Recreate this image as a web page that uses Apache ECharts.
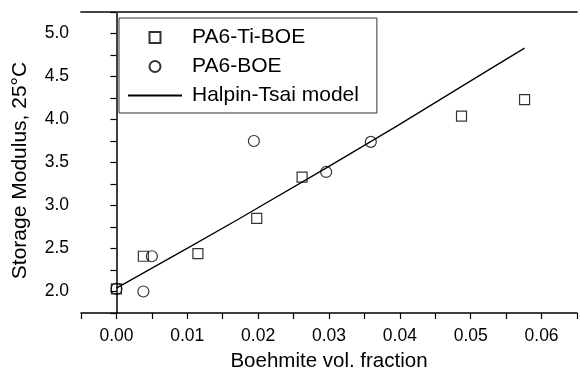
<!DOCTYPE html>
<html>
<head>
<meta charset="utf-8">
<title>Storage modulus vs boehmite fraction</title>
<script src="https://cdn.jsdelivr.net/npm/echarts@6/dist/echarts.min.js"></script>
<style>
  html, body { margin: 0; padding: 0; background: #fff; }
  #chart { width: 580px; height: 377px; }
</style>
</head>
<body>
<div id="chart"></div>
<script>
// Measured storage modulus (GPa) at 25 °C against boehmite volume fraction
const tiBoeFraction = [0.0, 0.0038, 0.0115, 0.0198, 0.0262, 0.0487, 0.0576];
const tiBoeModulus  = [2.03, 2.41, 2.44, 2.85, 3.33, 4.04, 4.23];

const boeFraction = [0.0, 0.0038, 0.0050, 0.0194, 0.0296, 0.0359];
const boeModulus  = [2.03, 2.00, 2.41, 3.75, 3.39, 3.74];

// Halpin-Tsai model prediction
const modelFraction = [0.0, 0.0106, 0.0172, 0.0297, 0.0395, 0.0530, 0.0576];
const modelModulus  = [2.04, 2.53, 2.84, 3.44, 3.92, 4.60, 4.83];

const seriesNames = ['PA6-Ti-BOE', 'PA6-BOE', 'Halpin-Tsai model'];
const xTitle = 'Boehmite vol. fraction';
const yTitle = 'Storage Modulus, 25°C';

const pairs = (xs, ys) => xs.map((x, i) => [x, ys[i]]);
const FONT = '"Liberation Sans", Arial, Helvetica, sans-serif';
const squarePath = 'path://M0,0L10,0L10,10L0,10Z';

const chart = echarts.init(document.getElementById('chart'), null, { renderer: 'canvas' });

const isStep = (v, step) => Math.abs(v / step - Math.round(v / step)) < 1e-6;

chart.setOption({
  animation: false,
  backgroundColor: '#ffffff',
  grid: { left: 81, right: -3, top: 12, bottom: 58, containLabel: false },
  legend: {
    orient: 'vertical',
    left: 119,
    top: 18,
    padding: [9, 18, 7, 8],
    itemGap: 8,
    itemWidth: 54,
    itemHeight: 11,
    symbolKeepAspect: true,
    borderColor: '#333',
    borderWidth: 1,
    textStyle: { fontFamily: FONT, fontSize: 21, color: '#000', padding: [0, 0, 0, 5] },
    data: seriesNames
  },
  xAxis: [{
    type: 'value',
    min: -0.005,
    max: 0.065,
    interval: 0.005,
    name: xTitle,
    nameLocation: 'middle',
    nameGap: 38,
    nameTextStyle: { fontFamily: FONT, fontSize: 20.5, color: '#000' },
    axisLine: { show: true, lineStyle: { color: '#000', width: 1.5 } },
    axisTick: { show: true, inside: false, length: 6, interval: 0, lineStyle: { color: '#000', width: 1.2 } },
    axisLabel: {
      interval: 0,
      margin: 14,
      fontFamily: FONT, fontSize: 17.5, color: '#000',
      formatter: v => isStep(v, 0.01) ? v.toFixed(2) : ''
    },
    splitLine: { show: false }
  }, {
    type: 'value',
    position: 'top',
    min: -0.005,
    max: 0.065,
    interval: 0.005,
    axisLine: { show: true, lineStyle: { color: '#444', width: 1.8 } },
    axisTick: { show: false },
    axisLabel: { show: false },
    splitLine: { show: false }
  }],
  yAxis: {
    type: 'value',
    min: 1.75,
    max: 5.25,
    interval: 0.25,
    name: yTitle,
    nameLocation: 'middle',
    nameGap: 50,
    nameTextStyle: { fontFamily: FONT, fontSize: 21, color: '#000', padding: [0, 16, 0, 0] },
    axisLine: { show: true, lineStyle: { color: '#000', width: 1.5 } },
    axisTick: { show: true, inside: false, length: 6, interval: 0, lineStyle: { color: '#000', width: 1.2 } },
    axisLabel: {
      interval: 0,
      margin: 12,
      fontFamily: FONT, fontSize: 17.5, color: '#000',
      formatter: v => isStep(v, 0.5) ? v.toFixed(1) : ''
    },
    splitLine: { show: false }
  },
  series: [{
    name: seriesNames[0],
    type: 'scatter',
    xAxisIndex: 0,
    symbol: squarePath,
    symbolKeepAspect: true,
    symbolSize: 10,
    itemStyle: { color: 'rgba(255,255,255,0)', borderColor: '#000', borderWidth: 1.2 },
    data: pairs(tiBoeFraction, tiBoeModulus),
    z: 3
  }, {
    name: seriesNames[1],
    type: 'scatter',
    xAxisIndex: 0,
    symbol: 'circle',
    symbolSize: 11,
    itemStyle: { color: 'rgba(255,255,255,0)', borderColor: '#000', borderWidth: 1.2 },
    data: pairs(boeFraction, boeModulus),
    z: 3
  }, {
    name: seriesNames[2],
    type: 'line',
    xAxisIndex: 0,
    symbol: 'none',
    showSymbol: false,
    itemStyle: { color: 'rgba(0,0,0,0)', borderColor: 'rgba(0,0,0,0)', borderWidth: 0 },
    lineStyle: { color: '#000', width: 1.3 },
    data: pairs(modelFraction, modelModulus),
    z: 2
  }]
});
</script>
</body>
</html>
